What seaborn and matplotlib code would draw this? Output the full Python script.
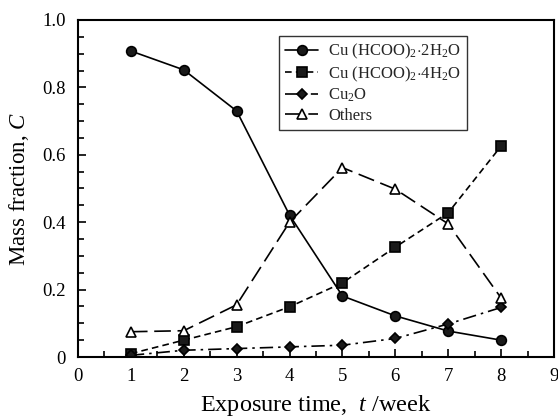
import matplotlib
matplotlib.use("Agg")
import matplotlib.pyplot as plt
import seaborn as sns
from matplotlib.ticker import MultipleLocator

weeks = [1, 2, 3, 4, 5, 6, 7, 8]
dihydrate = [0.908, 0.852, 0.730, 0.421, 0.181, 0.122, 0.077, 0.050]
tetrahydrate = [0.010, 0.050, 0.090, 0.149, 0.220, 0.326, 0.428, 0.626]
cu2o = [0.005, 0.020, 0.025, 0.030, 0.035, 0.055, 0.098, 0.147]
others = [0.075, 0.078, 0.155, 0.400, 0.562, 0.498, 0.395, 0.175]

labels = [r"Cu (HCOO)$_2$$\cdot$2H$_2$O", r"Cu (HCOO)$_2$$\cdot$4H$_2$O",
          r"Cu$_2$O", "Others"]

sns.set_theme(style="ticks")
plt.rcParams['font.family'] = ['Liberation Serif', 'DejaVu Serif']
plt.rcParams['mathtext.fontset'] = 'custom'
plt.rcParams['mathtext.rm'] = 'Liberation Serif'
plt.rcParams['mathtext.it'] = 'Liberation Serif:italic'

fig = plt.figure(figsize=(5.58, 4.19), dpi=100)
ax = fig.add_axes([78/558, 1-357/419, (554-78)/558, (357-20)/419])

specs = [
    (dihydrate, 'o', 'k', '-', 7, labels[0]),
    (tetrahydrate, 's', 'k', (0, (4, 2.5)), 6.5, labels[1]),
    (cu2o, 'D', 'k', (0, (8, 3, 1.5, 3)), 5.5, labels[2]),
    (others, '^', 'white', (0, (10, 4)), 7.5, labels[3]),
]
for vals, m, fc, ls, ms, lab in specs:
    sns.lineplot(x=weeks, y=vals, ax=ax, color='black', linewidth=1.2,
                 linestyle=ls, marker=m, markersize=ms,
                 markerfacecolor=fc, markeredgecolor='black', markeredgewidth=1.2,
                 label=lab)

ax.set_xlim(0, 9)
ax.set_ylim(0, 1.0)
ax.xaxis.set_major_locator(MultipleLocator(1))
ax.xaxis.set_minor_locator(MultipleLocator(0.5))
ax.yaxis.set_minor_locator(MultipleLocator(0.05))
ax.set_yticks([0, 0.2, 0.4, 0.6, 0.8, 1.0])
ax.set_yticklabels(['0', '0.2', '0.4', '0.6', '0.8', '1.0'])
ax.tick_params(which='both', direction='in', top=False, right=False,
               labelsize=13.5, width=1.2, color='black', labelcolor='black')
ax.tick_params(axis='x', which='major', length=6, pad=8)
ax.tick_params(axis='y', which='major', length=6, pad=9)
ax.tick_params(which='minor', length=4)
for s in ax.spines.values():
    s.set_linewidth(1.5)
    s.set_color('black')
    s.set_visible(True)

ax.set_xlabel(r"Exposure time,  $t$ /week", fontsize=17.5, color='black', labelpad=6)
ax.set_ylabel(r"Mass fraction, $C$", fontsize=16.5, color='black', labelpad=8)

leg = ax.legend(loc='upper left', bbox_to_anchor=((279-78)/476, 1-(36-20)/337),
                borderaxespad=0,
                fontsize=12, frameon=True, fancybox=False, edgecolor='black',
                handlelength=2.0, borderpad=0.35, labelspacing=0.2, handletextpad=0.6)
leg.get_frame().set_linewidth(1.0)

fig.savefig("out.png", dpi=100)
